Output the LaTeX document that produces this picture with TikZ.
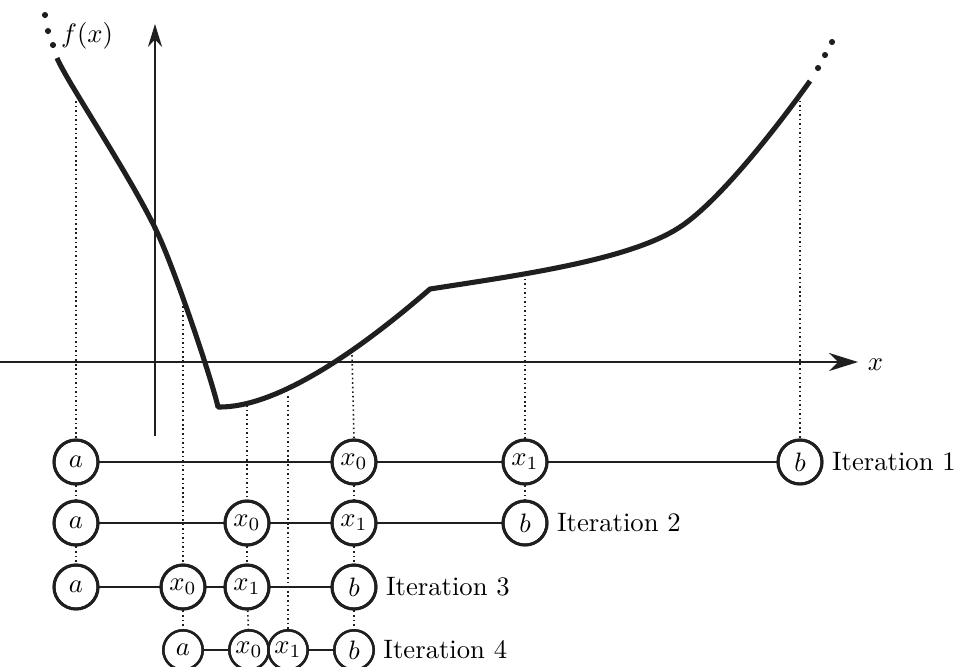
\documentclass[tikz,border=0pt]{standalone}
\usetikzlibrary{arrows.meta}
\begin{document}
\begin{tikzpicture}[x=0.375pt,y=-0.375pt,
  ink/.style={color=black!88},
  pt/.style={ink,draw,circle,line width=1.1pt,minimum size=16.5pt,inner sep=0pt,fill=white,text=black},
  ptsmall/.style={ink,draw,circle,line width=0.9pt,minimum size=14.8pt,inner sep=0pt,fill=white,text=black},
  link/.style={ink,line width=0.75pt},
  guide/.style={ink,line width=0.6pt,dash pattern=on 0.6pt off 1.1pt},
  curve/.style={ink,line width=1.9pt,line join=round},
  axis/.style={ink,line width=0.75pt},
  itlabel/.style={anchor=west,inner sep=3pt}]
\useasboundingbox (0,0) rectangle (954,666);
% axes
\coordinate (xs) at (0,362);
\coordinate (xe) at (858,362);
\coordinate (ys) at (155,436);
\coordinate (ye) at (155,24);
\draw[axis,-{Stealth[length=10.9pt,width=6.8pt,inset=3.5pt]}] (xs) -- (xe);
\draw[axis,-{Stealth[length=8.6pt,width=5.3pt,inset=2.8pt]}] (ys) -- (ye);
\node[anchor=west,inner sep=2pt] (xl) at (862,365) {$x$};
\node[anchor=west,inner sep=1pt] (fl) at (58,36) {$f(x)$};
% points on the function
\coordinate (c1) at (76,101);
\coordinate (c2) at (183,297);
\coordinate (c3) at (247,405);
\coordinate (c4) at (288,396);
\coordinate (c5) at (352,355);
\coordinate (c6) at (525,274);
\coordinate (c7) at (800,96);
% rows
\node[pt] (r1a)  at (76,462)  {$a$};
\node[pt] (r1x0) at (354,462) {$x_0$};
\node[pt] (r1x1) at (525,462) {$x_1$};
\node[pt] (r1b)  at (800,462) {$b$};
\node[pt] (r2a)  at (76,523)  {$a$};
\node[pt] (r2x0) at (247,523) {$x_0$};
\node[pt] (r2x1) at (354,523) {$x_1$};
\node[pt] (r2b)  at (525,523) {$b$};
\node[pt] (r3a)  at (76,587)  {$a$};
\node[pt] (r3x0) at (183,587) {$x_0$};
\node[pt] (r3x1) at (247,587) {$x_1$};
\node[pt] (r3b)  at (354,587) {$b$};
\node[ptsmall] (r4a)  at (183,650) {$a$};
\node[ptsmall] (r4x0) at (249,650) {$x_0$};
\node[ptsmall] (r4x1) at (288,650) {$x_1$};
\node[ptsmall] (r4b)  at (354,650) {$b$};
% guides
\draw[guide] (c1) -- (r1a.north);
\draw[guide] (r1a) -- (r2a);
\draw[guide] (r2a) -- (r3a);
\draw[guide] (c2) -- (r3x0.north);
\draw[guide] (r3x0) -- (r4a);
\draw[guide] (c3) -- (r2x0.north);
\draw[guide] (r2x0) -- (r3x1);
\draw[guide] (r3x1) -- (r4x0);
\draw[guide] (c4) -- (r4x1.north);
\draw[guide] (c5) -- (r1x0.north);
\draw[guide] (r1x0) -- (r2x1);
\draw[guide] (r2x1) -- (r3b);
\draw[guide] (r3b) -- (r4b);
\draw[guide] (c6) -- (r1x1.north);
\draw[guide] (r1x1) -- (r2b);
\draw[guide] (c7) -- (r1b.north);
% links
\draw[link] (r1a) -- (r1x0) -- (r1x1) -- (r1b);
\draw[link] (r2a) -- (r2x0) -- (r2x1) -- (r2b);
\draw[link] (r3a) -- (r3x0) -- (r3x1) -- (r3b);
\draw[link] (r4a) -- (r4x0);
\draw[link] (r4x1) -- (r4b);
% circles redrawn over the guides
\foreach \n in {r1a,r1x0,r1x1,r1b,r2a,r2x0,r2x1,r2b,r3a,r3x0,r3x1,r3b}{
  \draw[ink,line width=1.1pt] (\n.center) circle[radius=8.25pt];}
\foreach \n in {r4a,r4x0,r4x1,r4b}{
  \draw[ink,line width=0.9pt] (\n.center) circle[radius=7.4pt];}
\node[itlabel] (l1) at (r1b.east) {Iteration 1};
\node[itlabel] (l2) at (r2b.east) {Iteration 2};
\node[itlabel] (l3) at (r3b.east) {Iteration 3};
\node[itlabel] (l4) at (r4b.east) {Iteration 4};
% the function
\draw[curve] (57,58) .. controls (67,82) and (130,175) .. (157,232)
  .. controls (175,270) and (212,380) .. (218,407)
  .. controls (275,408) and (355,354) .. (430,289)
  .. controls (520,275) and (630,260) .. (680,227)
  .. controls (720,201) and (780,123) .. (810,81);
% dots
\foreach \p in {(45,15),(48,31),(53,45),(818,68),(825,55),(832,42)}{
  \fill[ink] \p circle[radius=1.15pt];}
\end{tikzpicture}
\end{document}
